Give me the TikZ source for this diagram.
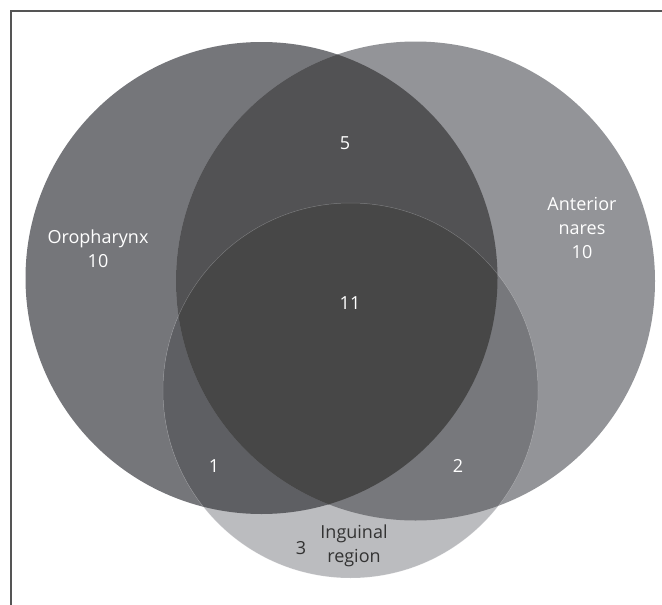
\documentclass[tikz,border=0pt]{standalone}
\usepackage{fontspec}
\setmainfont{Open Sans}
\begin{document}
\begin{tikzpicture}[x=1pt,y=-1pt,
  lbl/.style={font=\fontsize{18}{24}\selectfont, text=white, align=center, inner sep=0pt},
  dlbl/.style={lbl, text=textdark}]
\definecolor{oroc}{HTML}{75767A}
\definecolor{narc}{HTML}{939498}
\definecolor{ingc}{HTML}{BBBCBF}
\definecolor{onc}{HTML}{525254}
\definecolor{oic}{HTML}{5E5F63}
\definecolor{nic}{HTML}{77787C}
\definecolor{allc}{HTML}{474747}
\definecolor{framec}{HTML}{555555}
\definecolor{textdark}{HTML}{333333}
\useasboundingbox (0,0) rectangle (662,605);
\fill[white] (0,0) rectangle (662,605);
\coordinate (O) at (261.5,278);
\coordinate (N) at (415.5,281);
\coordinate (I) at (350.5,390.5);
\def\RO{236pt}\def\RN{239.5pt}\def\RI{187.5pt}
% single regions
\fill[oroc] (O) circle[radius=\RO];
\fill[narc] (N) circle[radius=\RN];
\fill[ingc] (I) circle[radius=\RI];
% pairwise
\begin{scope}\clip (O) circle[radius=\RO]; \fill[onc] (N) circle[radius=\RN];\end{scope}
\begin{scope}\clip (O) circle[radius=\RO]; \fill[oic] (I) circle[radius=\RI];\end{scope}
\begin{scope}\clip (N) circle[radius=\RN]; \fill[nic] (I) circle[radius=\RI];\end{scope}
% triple
\begin{scope}\clip (O) circle[radius=\RO]; \clip (N) circle[radius=\RN]; \fill[allc] (I) circle[radius=\RI];\end{scope}
\draw[white, opacity=0.2, line width=0.5pt] (I) circle[radius=\RI];
% frame
\draw[framec, line width=1.5pt] (10.75,605) -- (10.75,10.75) -- (662,10.75);
% labels
\node[lbl] (lo) at (98,249) {Oropharynx\\10};
\node[lbl] (l5) at (345,143) {5};
\node[lbl] (ln) at (582,228) {Anterior\\nares\\10};
\node[lbl] (l11) at (350,303) {11};
\node[lbl] (l1) at (214,466) {1};
\node[lbl] (l2) at (458,466) {2};
\node[dlbl] (li) at (354,546) {Inguinal\\region};
\node[dlbl] (l3) at (301,548) {3};
\end{tikzpicture}
\end{document}
